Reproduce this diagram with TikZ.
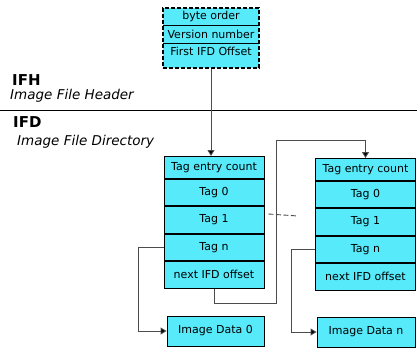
\documentclass[tikz,border=0pt]{standalone}
\usepackage{fontspec}
\setmainfont{DejaVu Sans}
\usetikzlibrary{positioning,arrows.meta,calc}
\definecolor{tiffcyan}{RGB}{86,234,250}
\tikzset{
  cell/.style={draw=black, fill=tiffcyan, line width=0.9pt, minimum width=100pt,
    minimum height=26.5pt, inner sep=0pt, font=\fontsize{11}{13}\selectfont},
  hrow/.style={minimum width=96pt, inner sep=0pt, font=\fontsize{11}{13}\selectfont},
  link/.style={draw=black!70, line width=0.9pt},
  arr/.style={link, -{Triangle[length=6pt,width=7pt,fill=black]}},
  lbl/.style={inner sep=0pt, font=\fontsize{13.5}{15}\selectfont\itshape},
  ttl/.style={inner sep=0pt, font=\fontsize{15}{17}\selectfont\bfseries}
}

\begin{document}
\begin{tikzpicture}[x=1pt, y=-1pt]
  \useasboundingbox (0,0) rectangle (417,349);
  %% header block
  \node[draw=black, fill=tiffcyan, line width=1.6pt, dash pattern=on 4pt off 2pt,
    minimum width=96pt, minimum height=60pt, inner sep=0pt] (ifh) at (211,38) {};
  \node[hrow, minimum height=18pt, anchor=north] (bo) at (ifh.north) {byte order};
  \node[hrow, minimum height=17pt, anchor=north] (vn) at (bo.south) {Version number};
  \node[hrow, minimum height=17pt, anchor=north] (fo) at (vn.south) {First IFD Offset};
  \draw[line width=0.9pt] (bo.south west) -- (bo.south east);
  \draw[line width=0.9pt] (vn.south west) -- (vn.south east);
  %% section labels
  \node[ttl, anchor=base west] (ifhttl) at (12,85) {IFH};
  \node[lbl, anchor=base west] (ifhlbl) at (10,99) {Image File Header};
  \draw[line width=0.9pt] (0,110) -- (417,110);
  \node[ttl, anchor=base west] (ifdttl) at (13,127) {IFD};
  \node[lbl, anchor=base west] (ifdlbl) at (17,145) {Image File Directory};
  %% directories
  \foreach \d/\xx/\yy in {a/214/156, b/365.5/158}{
    \node[cell, minimum height=22pt, anchor=north] (\d0) at (\xx,\yy) {Tag entry count};
    \node[cell, anchor=north] (\d1) at (\d0.south) {Tag 0};
    \node[cell, anchor=north] (\d2) at (\d1.south) {Tag 1};
    \node[cell, anchor=north] (\d3) at (\d2.south) {Tag n};
    \node[cell, anchor=north] (\d4) at (\d3.south) {next IFD offset};
  }
  %% image data
  \node[cell, minimum width=97pt, minimum height=30pt] (d0) at (215.5,331) {Image Data 0};
  \node[cell, minimum width=98pt, minimum height=30pt] (dn) at (366,332) {Image Data n};
  %%
  \coordinate (jmp) at (276,140);
  \draw[arr] (ifh.south) -- (ifh.south |- a0.north);
  \draw[arr] (a4.south) -- ++(0,15) -| (jmp) -| (b0.north);
  \draw[arr] (a3.west) -- ++(-25,0) |- (d0.west);
  \draw[arr] (b3.west) -- ++(-24,0) |- (dn.west);
  \draw[link, dash pattern=on 5pt off 2.5pt] ([shift={(4,-6)}]a2.east) -- ([shift={(-17,-6)}]b2.west);
\end{tikzpicture}
\end{document}
